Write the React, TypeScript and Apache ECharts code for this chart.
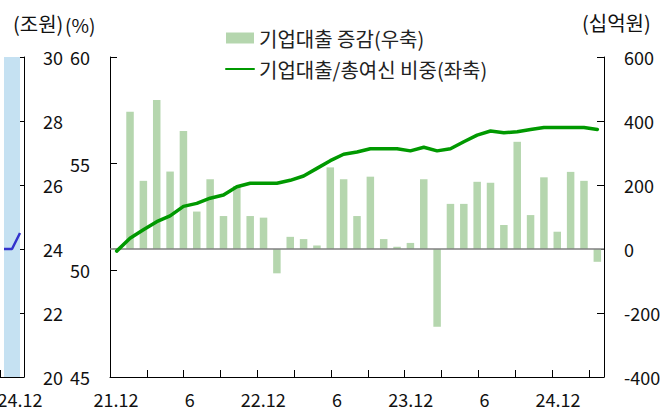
import React, { useEffect, useRef } from 'react';
import * as echarts from 'echarts';

// Main chart: months 21.12 .. 24.12
const categories = [
  '21.12',
  '22.01', '22.02', '22.03', '22.04', '22.05', '22.06', '22.07', '22.08', '22.09', '22.10', '22.11', '22.12',
  '23.01', '23.02', '23.03', '23.04', '23.05', '23.06', '23.07', '23.08', '23.09', '23.10', '23.11', '23.12',
  '24.01', '24.02', '24.03', '24.04', '24.05', '24.06', '24.07', '24.08', '24.09', '24.10', '24.11', '24.12',
];

// 기업대출 증감 (십억원, right axis)
const loanChange = [
  3, 429, 213, 466, 242, 369, 117, 218, 103, 197, 103, 98, -76,
  38, 31, 11, 255, 218, 103, 226, 31, 7, 19, 218, -243,
  141, 141, 210, 207, 75, 335, 106, 224, 54, 241, 213, -40,
];

// 기업대출/총여신 비중 (%, left axis)
const loanShare = [
  50.9, 51.5, 51.9, 52.28, 52.55, 53.0, 53.14, 53.38, 53.53, 53.92, 54.08, 54.08, 54.08,
  54.22, 54.42, 54.78, 55.14, 55.44, 55.55, 55.7, 55.7, 55.7, 55.6, 55.77, 55.6,
  55.7, 56.03, 56.34, 56.53, 56.45, 56.5, 56.6, 56.7, 56.7, 56.7, 56.7, 56.6,
];

// bottom axis tick labels (one per tick)
const tickLabels = ['21.12', '', '6', '', '22.12', '', '6', '', '23.12', '', '6', '', '24.12', ''];

// Partial neighbouring chart (조원)
const leftCategories = ['24.10', '24.11', '24.12'];
const leftValues = [24.0, 24.0, 24.5];

const legendBar = '기업대출 증감(우축)';
const legendLine = '기업대출/총여신 비중(좌축)';

const FONT = "'Noto Sans CJK KR', 'Noto Sans', sans-serif";

export default function App() {
  const ref = useRef<HTMLDivElement>(null);

  useEffect(() => {
    document.body.style.margin = '0';
    const chart = echarts.init(ref.current as HTMLDivElement, null, { renderer: 'svg' });
    const axisLine = { show: true, onZero: false, lineStyle: { color: '#000', width: 1 } };
    const tick = { show: true, inside: true, length: 7, lineStyle: { color: '#000', width: 1 } };
    const label = { color: '#111', fontSize: 18, fontFamily: FONT };

    chart.setOption({
      animation: false,
      textStyle: { fontFamily: FONT },
      legend: {
        orient: 'vertical',
        left: 225,
        top: 28,
        padding: 0,
        itemWidth: 28,
        itemHeight: 11,
        itemGap: 11,
        selectedMode: false,
        textStyle: { fontSize: 20, color: '#222', fontFamily: FONT, lineHeight: 20 },
        data: [
          { name: legendBar, icon: 'rect' },
          { name: legendLine, itemStyle: { opacity: 0 } },
        ],
      },
      graphic: [
        { type: 'text', x: 13, y: 23, style: { text: '(조원)', fontSize: 20, fontFamily: FONT, fill: '#111', verticalAlign: 'middle' } },
        { type: 'text', x: 65, y: 24, style: { text: '(%)', fontSize: 19, fontFamily: FONT, fill: '#111', verticalAlign: 'middle' } },
        { type: 'text', x: 582, y: 22, style: { text: '(십억원)', fontSize: 20, fontFamily: FONT, fill: '#111', verticalAlign: 'middle' } },
      ],
      grid: [
        { left: 110, right: 64, top: 57, bottom: 36 },
        { left: -18, width: 42, top: 57, bottom: 36 },
      ],
      xAxis: [
        {
          type: 'category', gridIndex: 0, data: categories,
          axisLine: { show: false }, axisTick: { show: false }, axisLabel: { show: false },
        },
        {
          type: 'value', gridIndex: 0, position: 'bottom', min: 0, max: 13.41, interval: 1,
          axisLine, axisTick: tick, splitLine: { show: false },
          axisLabel: {
            ...label, margin: 13, padding: [0, 0, 0, 12],
            formatter: (v: number) => (Number.isInteger(v) && tickLabels[v]) || '',
          },
        },
        {
          type: 'category', gridIndex: 1, data: leftCategories,
          axisLine, axisTick: { ...tick, interval: 0 },
          axisLabel: { ...label, margin: 13, interval: (i: number) => i === leftCategories.length - 1 },
        },
      ],
      yAxis: [
        {
          type: 'value', gridIndex: 0, position: 'left', min: 45, max: 60, interval: 5,
          axisLine, axisTick: tick, splitLine: { show: false }, axisLabel: { ...label, margin: 20 },
        },
        {
          type: 'value', gridIndex: 0, position: 'right', min: -400, max: 600, interval: 200,
          axisLine, axisTick: tick, splitLine: { show: false }, axisLabel: { ...label, margin: 20 },
        },
        {
          type: 'value', gridIndex: 1, position: 'right', min: 20, max: 30, interval: 2,
          axisLine, axisTick: tick, splitLine: { show: false }, axisLabel: { ...label, margin: 19 },
        },
      ],
      series: [
        {
          name: legendBar, type: 'bar', xAxisIndex: 0, yAxisIndex: 1, data: loanChange,
          barWidth: 7.5, itemStyle: { color: '#b5d6ae' },
          markLine: {
            silent: true, symbol: 'none', label: { show: false },
            lineStyle: { color: '#808080', width: 1.5, type: 'solid' },
            data: [{ yAxis: 0 }],
          },
        },
        {
          name: legendLine, type: 'line', xAxisIndex: 0, yAxisIndex: 0, data: loanShare,
          symbol: 'none', showSymbol: false, z: 5,
          lineStyle: { color: '#009900', width: 3.5, cap: 'round', join: 'round' },
          itemStyle: { color: '#009900' },
        },
        {
          name: 'left', type: 'line', xAxisIndex: 2, yAxisIndex: 2, data: leftValues,
          symbol: 'none', showSymbol: false, z: 5,
          lineStyle: { color: '#3333cc', width: 2.5 },
          markArea: {
            silent: true,
            itemStyle: { color: '#c5e1f2' },
            data: [[{ xAxis: leftCategories[0] }, { xAxis: leftCategories[leftCategories.length - 1] }]],
          },
        },
      ],
    });
    return () => chart.dispose();
  }, []);

  return <div ref={ref} style={{ width: 668, height: 413 }} />;
}
